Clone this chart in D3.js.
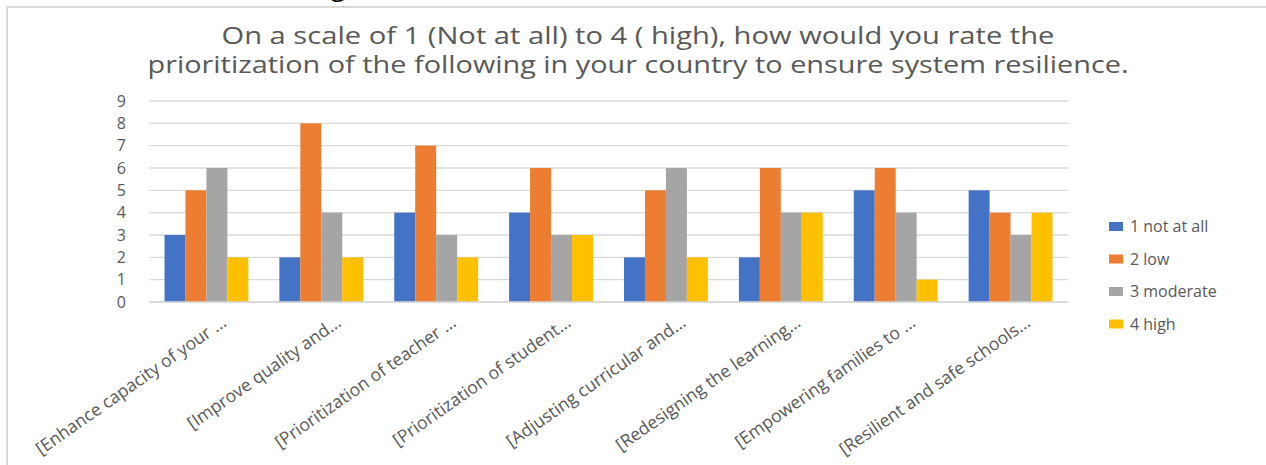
<!DOCTYPE html>
<html>
<head>
<meta charset="utf-8">
<script src="https://cdn.jsdelivr.net/npm/d3@7"></script>
<style>
  body { margin: 0; background: #fff; }
  svg { display: block; font-family: "Open Sans", sans-serif; }
</style>
</head>
<body>
<div id="chart"></div>
<script>
// Data
const categories = [
  "[Enhance capacity of your ...",
  "[Improve quality and...",
  "[Prioritization of teacher ...",
  "[Prioritization of student...",
  "[Adjusting curricular and...",
  "[Redesigning the learning...",
  "[Empowering families to ...",
  "[Resilient and safe schools..."
];
const seriesNames = ["1 not at all", "2 low", "3 moderate", "4 high"];
const notAtAll = [3, 2, 4, 4, 2, 2, 5, 5];
const low      = [5, 8, 7, 6, 5, 6, 6, 4];
const moderate = [6, 4, 3, 3, 6, 4, 4, 3];
const high     = [2, 2, 2, 3, 2, 4, 1, 4];
const yTicks = [0, 1, 2, 3, 4, 5, 6, 7, 8, 9];
const titleLines = [
  "On a scale of 1 (Not at all) to 4 ( high), how would you rate the",
  "prioritization of the following in your country to ensure system resilience."
];

const seriesValues = [notAtAll, low, moderate, high];
const colors = ["#4472C4", "#ED7D31", "#A5A5A5", "#FFC000"];

const width = 1266, height = 465;
const margin = { left: 149, right: 198, top: 101, bottom: 163 };

const svg = d3.select("#chart").append("svg")
  .attr("width", width)
  .attr("height", height);

// chart frame (only top and left edges are visible in the crop)
svg.append("rect")
  .attr("x", 7).attr("y", 7)
  .attr("width", width + 20).attr("height", height + 20)
  .attr("fill", "none")
  .attr("stroke", "#d9d9d9")
  .attr("stroke-width", 2);

// Title
svg.selectAll("text.title")
  .data(titleLines)
  .enter()
  .append("text")
  .attr("class", "title")
  .attr("x", 638)
  .attr("y", (d, i) => 44 + i * 29)
  .attr("text-anchor", "middle")
  .attr("font-size", 23)
  .attr("fill", "#595959")
  .attr("textLength", (d, i) => (i === 0 ? 833 : 981))
  .attr("lengthAdjust", "spacingAndGlyphs")
  .text((d) => d);

// Scales
const x0 = d3.scaleBand()
  .domain(categories)
  .range([margin.left, width - margin.right])
  .paddingInner(0.27)
  .paddingOuter(0.135);
const x1 = d3.scaleBand()
  .domain(seriesNames)
  .range([0, x0.bandwidth()]);
const y = d3.scaleLinear()
  .domain([0, 9])
  .range([height - margin.bottom, margin.top]);

// Gridlines
svg.append("g")
  .selectAll("line")
  .data(yTicks)
  .enter()
  .append("line")
  .attr("x1", margin.left)
  .attr("x2", width - margin.right)
  .attr("y1", (d) => y(d))
  .attr("y2", (d) => y(d))
  .attr("stroke", "#d9d9d9")
  .attr("stroke-width", 1.3);

// Y tick labels
svg.append("g")
  .selectAll("text")
  .data(yTicks)
  .enter()
  .append("text")
  .attr("x", 126)
  .attr("y", (d) => y(d))
  .attr("dy", "0.35em")
  .attr("text-anchor", "end")
  .attr("font-size", 16)
  .attr("fill", "#595959")
  .text((d) => d);

// Bars
const groups = svg.append("g")
  .selectAll("g")
  .data(categories)
  .enter()
  .append("g")
  .attr("transform", (d) => `translate(${x0(d)},0)`);

groups.selectAll("rect")
  .data((d, i) => seriesNames.map((s, j) => ({ s, v: seriesValues[j][i], c: colors[j] })))
  .enter()
  .append("rect")
  .attr("x", (d) => x1(d.s))
  .attr("y", (d) => y(d.v))
  .attr("width", x1.bandwidth())
  .attr("height", (d) => y(0) - y(d.v))
  .attr("fill", (d) => d.c);

// X axis baseline
svg.append("line")
  .attr("x1", margin.left)
  .attr("x2", width - margin.right)
  .attr("y1", y(0))
  .attr("y2", y(0))
  .attr("stroke", "#d9d9d9")
  .attr("stroke-width", 1.5);

// X labels (rotated)
svg.append("g")
  .selectAll("text")
  .data(categories)
  .enter()
  .append("text")
  .attr("transform", (d) => `translate(${x0(d) + x0.bandwidth() / 2 + 14},${y(0) + 13}) rotate(-35)`)
  .attr("text-anchor", "end")
  .attr("dy", "0.7em")
  .attr("font-size", 17.5)
  .attr("fill", "#595959")
  .text((d) => d);

// Legend
const legend = svg.append("g")
  .selectAll("g")
  .data(seriesNames)
  .enter()
  .append("g")
  .attr("transform", (d, i) => `translate(1109,${222 + i * 32.5})`);
legend.append("rect")
  .attr("width", 14)
  .attr("height", 9)
  .attr("fill", (d, i) => colors[i]);
legend.append("text")
  .attr("x", 21)
  .attr("y", 10)
  .attr("font-size", 16)
  .attr("fill", "#595959")
  .text((d) => d);

// clipped glyph from text above the chart
svg.append("text")
  .attr("x", 331).attr("y", -4)
  .attr("font-size", 26)
  .attr("fill", "#000")
  .text("g");
</script>
</body>
</html>
